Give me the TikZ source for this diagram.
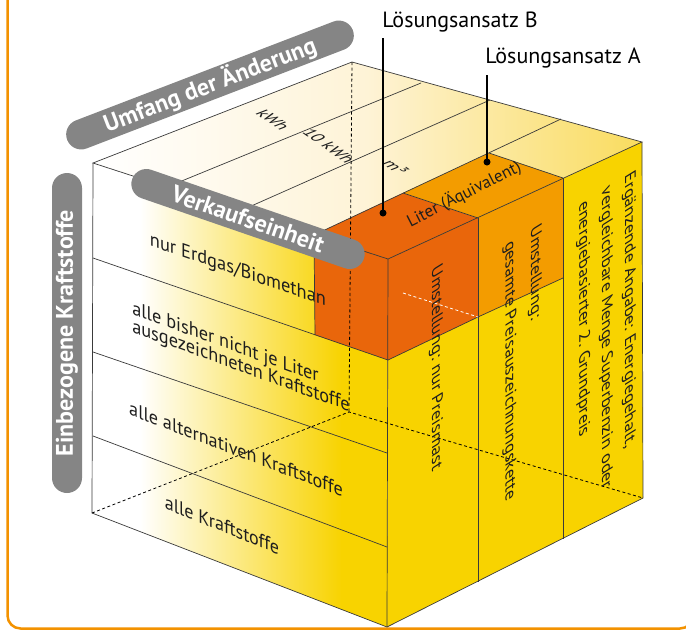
\documentclass[tikz,border=0pt]{standalone}
\usepackage{fontspec}
\setmainfont{PT Sans}
\usetikzlibrary{calc}
\definecolor{frameorange}{HTML}{F39200}
\definecolor{darkorange}{HTML}{E9660B}
\definecolor{midorange}{HTML}{F39C00}
\definecolor{cubeyellow}{HTML}{F8D300}
\definecolor{pillgray}{HTML}{858585}
\definecolor{edgecol}{HTML}{3A3A3A}
\definecolor{topcream}{HTML}{FEF3D6}
\definecolor{topyellow}{HTML}{F9DC5E}
\definecolor{txtdark}{HTML}{1E1E1E}
\begin{document}
\begin{tikzpicture}[x=1pt,y=-1pt,
  edge/.style={draw=edgecol, line width=0.7pt},
  hidden/.style={draw=black, line width=0.8pt, dash pattern=on 3pt off 2.5pt},
  pill/.style={fill=pillgray, text=white, font=\bfseries\fontsize{24}{24}\selectfont, rounded corners=15pt, minimum height=30pt, inner xsep=12pt, inner ysep=0pt},
  facetxt/.style={font=\fontsize{19.5}{19.5}\selectfont, text=txtdark, inner sep=0pt, align=left, transform shape},
  sidetxt/.style={font=\fontsize{18}{18}\selectfont, text=txtdark, inner sep=0pt, align=left, transform shape},
  toptxt/.style={font=\fontsize{17}{17}\selectfont, text=txtdark, inner sep=0pt, transform shape},
  callout/.style={font=\fontsize{22}{22}\selectfont, text=black, inner sep=0pt},
  leader/.style={draw=black, line width=1.4pt}]
\useasboundingbox (0,0) rectangle (686,630);
% frame
\draw[frameorange, line width=2.5pt, rounded corners=13pt] (7.5,-40) rectangle (693,628.5);
% cube corners
\coordinate (A) at (93,163);
\coordinate (B) at (352,62);
\coordinate (C) at (642,142);
\coordinate (D) at (388,259);
\coordinate (E) at (387,627);
\coordinate (F) at (92,513);
\coordinate (G) at (643,498);
\coordinate (H) at (349,412);
% top face dividers
\coordinate (a1) at (167,187); \coordinate (b1) at (421,83);
\coordinate (a2) at (240,211); \coordinate (b2) at (490,100);
\coordinate (a3) at (314,235); \coordinate (b3) at (561,119);
\coordinate (d1) at (403,193); \coordinate (d2) at (489,153);
\coordinate (c1) at (478,218); \coordinate (c2) at (563,178);
% lower points
\coordinate (a3l) at (315,335); \coordinate (Dl) at (388,360);
\coordinate (c1l) at (478,317); \coordinate (c2l) at (563,278);
\coordinate (d1l) at (403,293);
\coordinate (c1b) at (478,582); \coordinate (c2b) at (563,539);
% left face rows
\coordinate (l1) at (93,258);
\coordinate (l2a) at (93,352); \coordinate (l2b) at (387,453);
\coordinate (l3a) at (93,436); \coordinate (l3b) at (387,547);

% faces
\shade[left color=white, right color=topyellow, middle color=topcream] (A)--(B)--(C)--(D)--cycle;
\fill[white] (A)--(D)--(E)--(F)--cycle;
\begin{scope}
  \clip (A)--(D)--(E)--(F)--cycle;
  \shade[left color=white, right color=cubeyellow] (140,150) rectangle (342,640);
  \fill[cubeyellow] (341,150) rectangle (392,640);
\end{scope}
\fill[cubeyellow] (D)--(C)--(G)--(E)--cycle;
% solution regions
\fill[darkorange] (a3)--(d1)--(c1)--(D)--cycle;
\fill[darkorange] (a3)--(D)--(Dl)--(a3l)--cycle;
\fill[darkorange] (D)--(c1)--(c1l)--(Dl)--cycle;
\fill[midorange] (d1)--(d2)--(c2)--(c1)--cycle;
\fill[midorange] (c1)--(c2)--(c2l)--(c1l)--cycle;

% edges
\path[edge] (A)--(B)--(C)--(D)--cycle;
\path[edge] (a1)--(b1) (a2)--(b2) (a3)--(b3);
\path[edge] (d1)--(c1) (d2)--(c2);
\path[edge] (A)--(F)--(E)--(G)--(C);
\path[edge] (D)--(E);
\path[edge] (l1)--(Dl) (l2a)--(l2b) (l3a)--(l3b);
\path[edge] (a3)--(a3l);
\path[edge] (Dl)--(c1l)--(c2l);
\path[edge] (c1)--(c1b) (c2)--(c2b);

% hidden edges
\path[hidden] (B)--(H) (F)--(H)--(G);
\draw[white, line width=0.8pt, dash pattern=on 3pt off 2.5pt] (d1l)--(c1l);

% left face texts
\begin{scope}[shift={(238,271)}, cm={0.9455,-0.3256,0,1,(0,0)}]
  \node[facetxt] (t1) at (0,0) {nur Erdgas/Biomethan};
\end{scope}
\begin{scope}[shift={(241,358)}, cm={0.9397,-0.3420,0,1,(0,0)}]
  \node[facetxt, font=\fontsize{19.5}{18}\selectfont] (t2) at (0,0) {alle bisher nicht je Liter\\ausgezeichneten Kraftstoffe};
\end{scope}
\begin{scope}[shift={(236,449)}, cm={0.9336,-0.3584,0,1,(0,0)}]
  \node[facetxt] (t3) at (0,0) {alle alternativen Kraftstoffe};
\end{scope}
\begin{scope}[shift={(222,525)}, cm={0.9272,-0.3746,0,1,(0,0)}]
  \node[facetxt] (t4) at (0,0) {alle Kraftstoffe};
\end{scope}

% right face texts
\begin{scope}[shift={(436,368)}, cm={0,-1,0.849,0.528,(0,0)}]
  \node[sidetxt] (r1) at (0,0) {Umstellung: nur Preismast};
\end{scope}
\begin{scope}[shift={(522,363)}, cm={0,-1,0.849,0.528,(0,0)}]
  \node[sidetxt, font=\fontsize{18}{30}\selectfont] (r2) at (0,0) {Umstellung:\\gesamte Preisauszeichnungskette};
\end{scope}
\begin{scope}[shift={(606,338)}, cm={0,-1,0.849,0.528,(0,0)}]
  \node[sidetxt, font=\fontsize{18}{27}\selectfont] (r3) at (0,0) {Ergänzende Angabe: Energiegehalt,\\vergleichbare Menge Superbenzin oder\\energiebasierter 2. Grundpreis};
\end{scope}

% top face texts
\begin{scope}[shift={(273,120)}, cm={0.82,-0.57,0.93,0.36,(0,0)}]
  \node[toptxt] (k1) at (0,0) {kWh};
\end{scope}
\begin{scope}[shift={(329,146)}, cm={0.82,-0.57,0.93,0.36,(0,0)}]
  \node[toptxt] (k2) at (0,0) {10 kWh};
\end{scope}
\begin{scope}[shift={(396,167)}, cm={0.82,-0.57,0.93,0.36,(0,0)}]
  \node[toptxt] (k3) at (0,0) {m³};
\end{scope}
\begin{scope}[shift={(464,194)}, rotate=27]
  \node[toptxt] (k4) at (0,0) {Liter (Äquivalent)};
\end{scope}

% axis labels
\node[pill, rotate=21, minimum width=306pt] (ax1) at (210,85) {Umfang der Änderung};
\node[pill, rotate=-19, minimum width=245pt] (ax2) at (248,219) {Verkaufseinheit};
\node[pill, rotate=90, minimum width=320pt] (ax3) at (67,333) {Einbezogene Kraftstoffe};

% callouts
\node[callout] (LsgB) at (460,22) {Lösungsansatz B};
\node[callout] (LsgA) at (563,58) {Lösungsansatz A};
\coordinate (LBtop) at (383,38); \coordinate (LBdot) at (383,213);
\coordinate (LAtop) at (487,75); \coordinate (LAdot) at (487,162);
\path[leader] (LBtop)--(LBdot);
\path[leader] (LAtop)--(LAdot);
\fill[black] (LBdot) circle (3.5pt);
\fill[black] (LAdot) circle (3.5pt);
\end{tikzpicture}
\end{document}
